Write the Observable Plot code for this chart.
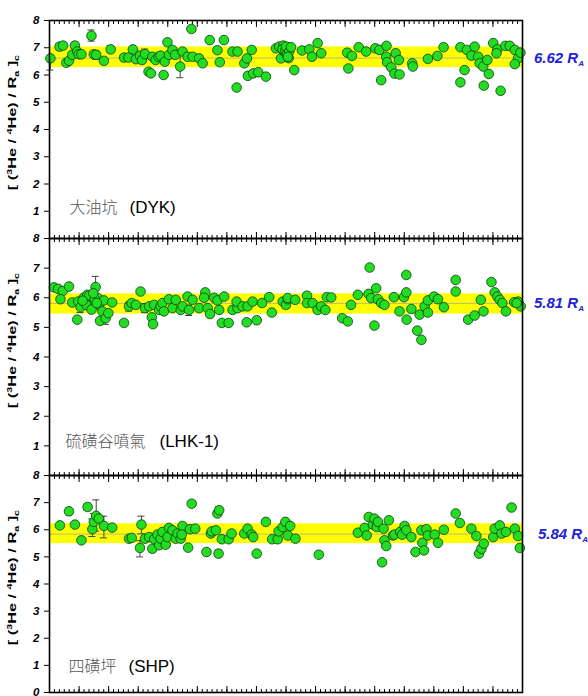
<!DOCTYPE html>
<html><head><meta charset="utf-8">
<script src="https://cdn.jsdelivr.net/npm/d3@7"></script>
<script src="https://cdn.jsdelivr.net/npm/@observablehq/plot@0.6"></script>
<style>
body{margin:0;background:#fff;}
#chart{position:relative;width:588px;height:696px;overflow:hidden;background:#fff;}
#chart svg{position:absolute;left:0;}
</style></head><body><div id="chart"></div>
<script>
// ---- data ----
const xDomain = [0, 16];
const yDomain = [0, 8];
const majorTicks = d3.range(0, 17);
const minorTicks = d3.range(0, 97).map(i => i / 6);
const yTicksUpper = [1, 2, 3, 4, 5, 6, 7, 8];
const yTicksLower = [0, 1, 2, 3, 4, 5, 6, 7, 8];

const panelNames = ["大油坑", "硫磺谷噴氣", "四磺坪"];
const panelCodes = ["(DYK)", "(LHK-1)", "(SHP)"];
const panelMeans = [6.62, 5.81, 5.84];
const panelBands = [[6.27, 7.03], [5.45, 6.13], [5.49, 6.22]];

const dykPoints = [[0.03,6.61],[0.34,7.04],[0.46,7.08],[0.57,6.45],[0.66,6.52],[0.77,6.74],[0.86,7.08],[0.94,6.86],[0.99,6.76],[1.08,6.76],[1.42,7.44],[1.50,6.76],[1.58,6.74],[1.84,6.52],[2.07,6.94],[2.52,6.64],[2.67,6.64],[2.82,6.94],[2.92,6.58],[3.06,6.71],[3.13,6.55],[3.23,6.77],[3.35,6.12],[3.43,6.06],[3.48,6.67],[3.59,6.55],[3.69,6.67],[3.76,6.71],[3.86,6.0],[3.90,6.49],[3.99,7.2],[4.04,6.74],[4.16,6.92],[4.25,6.74],[4.42,6.31],[4.50,6.86],[4.67,6.67],[4.80,7.69],[4.84,6.67],[5.06,6.61],[5.18,6.43],[5.42,7.28],[5.68,6.91],[5.76,6.47],[5.90,7.28],[6.19,6.86],[6.33,5.54],[6.36,6.86],[6.59,6.43],[6.68,6.61],[6.71,5.97],[6.84,6.92],[6.89,6.06],[7.06,6.10],[7.32,5.94],[7.66,6.98],[7.77,7.04],[7.83,6.61],[7.91,7.08],[7.94,6.86],[8.0,6.98],[8.06,6.71],[8.11,7.0],[7.88,6.95],[7.98,6.9],[8.03,6.78],[8.09,6.62],[8.0,7.04],[8.11,6.86],[8.17,7.02],[8.06,6.67],[8.28,6.18],[8.54,6.9],[8.79,6.94],[8.88,6.67],[9.07,7.17],[9.19,6.80],[10.07,6.82],[10.23,6.70],[10.11,6.24],[10.46,7.02],[10.71,6.86],[11.02,6.98],[11.16,6.92],[11.22,5.81],[11.40,7.07],[11.39,6.67],[11.42,6.47],[11.56,6.28],[11.71,6.80],[11.82,6.55],[11.67,6.05],[11.84,6.02],[12.27,6.43],[12.29,6.31],[12.80,6.59],[13.12,6.70],[13.33,7.02],[13.90,7.02],[14.04,6.18],[13.90,5.73],[14.12,6.92],[14.38,7.04],[14.27,6.71],[14.50,6.67],[14.55,6.43],[14.67,6.31],[14.81,6.55],[14.86,6.04],[14.69,5.61],[15.01,7.17],[15.15,6.94],[15.12,6.80],[15.26,5.42],[15.42,7.07],[15.57,7.07],[15.74,6.92],[15.85,6.61],[15.74,6.40],[15.93,6.82]];
const dykErrors = [[0.03,6.18,6.61],[0.34,6.92,7.16],[0.46,6.96,7.2],[0.86,6.96,7.2],[1.42,7.24,7.65],[1.58,6.58,6.9],[2.07,6.82,7.08],[3.23,6.6,6.95],[4.42,5.9,6.72],[2.52,6.52,6.72],[8.06,6.55,6.85],[4.25,6.6,6.88]];

const lhkPoints = [[0.15,6.35],[0.29,6.3],[0.45,6.23],[0.66,6.38],[0.37,5.95],[0.77,5.84],[0.94,5.26],[0.97,5.87],[1.05,5.68],[1.16,6.0],[1.22,5.82],[1.28,6.1],[1.33,5.93],[1.39,5.71],[1.45,6.04],[1.50,5.87],[1.56,6.36],[1.62,6.0],[1.67,5.76],[1.71,5.22],[1.79,5.54],[1.84,5.91],[1.90,5.31],[1.99,5.48],[2.12,5.84],[1.25,5.75],[1.35,6.08],[1.42,5.6],[1.53,5.95],[1.6,5.82],[1.12,5.9],[1.48,6.15],[2.52,5.15],[2.69,5.71],[2.78,5.82],[2.92,5.76],[3.08,6.21],[3.23,5.65],[3.37,5.71],[3.46,5.34],[3.50,5.11],[3.54,5.76],[3.71,5.59],[3.76,5.71],[3.82,5.82],[3.87,5.54],[4.04,5.95],[4.16,5.65],[4.27,5.93],[4.44,5.59],[4.50,5.71],[4.67,6.04],[4.72,5.59],[4.84,5.93],[5.06,5.65],[5.27,6.18],[5.23,6.0],[5.35,5.65],[5.43,5.45],[5.57,6.0],[5.68,5.91],[5.74,5.59],[5.91,6.04],[5.83,5.15],[6.06,5.15],[6.19,5.59],[6.36,5.65],[6.33,5.87],[6.53,5.71],[6.70,5.71],[6.67,5.17],[6.87,5.87],[7.01,5.24],[7.19,5.82],[7.43,6.02],[7.52,5.5],[7.89,5.87],[8.0,5.76],[8.06,5.95],[8.06,5.99],[8.31,5.93],[8.71,6.07],[8.71,5.82],[8.90,5.82],[9.07,5.59],[9.19,5.71],[9.33,5.59],[9.38,6.02],[9.53,6.01],[9.90,5.31],[10.09,5.2],[10.20,5.76],[10.43,6.1],[10.83,7.02],[10.79,6.13],[10.88,5.99],[11.05,6.32],[11.11,5.95],[11.22,5.82],[11.33,5.76],[10.99,5.06],[11.65,6.02],[11.84,5.54],[11.99,6.02],[12.07,6.18],[12.07,6.77],[12.08,5.26],[12.24,5.62],[12.44,4.89],[12.58,4.58],[12.52,5.43],[12.69,5.71],[12.80,5.5],[12.80,5.91],[13.01,6.04],[13.14,5.95],[13.34,5.68],[13.74,6.6],[13.74,6.21],[14.16,5.26],[14.38,5.4],[14.59,5.93],[14.68,5.54],[14.95,6.53],[15.06,6.18],[15.15,6.04],[15.23,5.93],[15.32,5.82],[15.44,5.54],[15.72,5.85],[15.85,5.87],[15.94,5.71],[15.80,5.82]];
const lhkErrors = [[1.56,6.0,6.72],[1.33,5.7,6.15],[1.90,5.1,5.5],[2.69,5.55,5.85],[4.72,5.4,5.75],[8.0,5.65,5.95],[9.53,5.9,6.12],[1.05,5.5,5.85],[3.23,5.5,5.8]];

const shpPoints = [[0.35,6.16],[0.66,6.68],[0.86,6.19],[1.08,5.61],[1.29,6.84],[1.45,6.02],[1.50,6.29],[1.58,6.51],[1.67,6.41],[1.84,6.14],[2.12,6.08],[2.69,5.67],[2.78,5.7],[3.11,6.19],[3.06,5.33],[3.23,5.67],[3.37,5.73],[3.48,5.3],[3.54,5.65],[3.65,5.82],[3.71,5.43],[3.76,5.67],[3.82,5.92],[3.93,5.45],[3.99,5.73],[4.04,6.07],[4.16,5.98],[4.27,5.67],[4.33,5.86],[4.44,5.67],[4.50,6.14],[4.47,5.82],[4.69,5.34],[4.75,6.02],[4.81,6.96],[4.93,6.04],[5.31,5.18],[5.46,5.86],[5.49,5.94],[5.63,5.98],[5.68,6.6],[5.74,6.72],[5.72,5.12],[5.83,5.65],[6.06,5.65],[6.16,5.86],[6.59,5.86],[6.70,6.04],[6.84,5.82],[6.89,5.73],[7.01,5.12],[7.32,6.29],[7.53,5.65],[7.72,5.65],[7.75,5.94],[7.89,6.1],[7.98,6.29],[8.06,5.79],[8.14,6.14],[8.32,5.67],[9.11,5.08],[10.43,5.89],[10.66,6.07],[10.73,5.79],[10.80,6.47],[10.94,6.19],[10.99,6.41],[11.07,6.1],[11.11,6.29],[11.25,4.8],[11.30,6.04],[11.33,5.61],[11.39,5.4],[11.48,6.35],[11.62,5.79],[11.67,5.82],[11.86,5.92],[11.93,5.82],[12.01,6.14],[12.07,5.98],[12.24,5.73],[12.38,5.18],[12.58,5.98],[12.61,5.52],[12.67,5.24],[12.75,6.02],[12.80,5.79],[13.03,5.82],[13.14,5.52],[13.34,6.0],[13.74,6.6],[13.88,6.25],[14.27,6.04],[14.44,5.77],[14.53,5.12],[14.61,5.3],[14.69,5.49],[15.01,5.73],[15.06,6.04],[15.23,6.16],[15.29,5.86],[15.44,5.92],[15.63,6.82],[15.74,6.04],[15.85,5.77],[15.91,5.33]];
const shpErrors = [[1.45,5.75,6.4],[1.50,5.95,6.6],[1.58,5.95,7.1],[1.84,5.7,6.5],[3.11,5.85,6.5],[3.06,5.0,5.6],[5.72,5.0,5.25],[5.74,6.6,6.85],[0.66,6.55,6.8],[1.29,6.72,6.95]];

const pointSets = [dykPoints, lhkPoints, shpPoints];
const errorSets = [dykErrors, lhkErrors, shpErrors];

// ---- layout ----
const W = 588, ML = 49, MR = 66;
const layouts = [
  {top: 0,   height: 250, mt: 20, mb: 12, yTicks: yTicksUpper, labelDx: 20, labelDy: -31, meanDx: 12},
  {top: 226, height: 261, mt: 12, mb: 12, yTicks: yTicksUpper, labelDx: 16, labelDy: -34, meanDx: 12},
  {top: 463, height: 233, mt: 12, mb: 4,  yTicks: yTicksLower, labelDx: 19, labelDy: -26, meanDx: 16}
];
const sans = "'Liberation Sans', Arial, Helvetica, sans-serif";
const chart = document.getElementById("chart");

function richText(sel, parts, smallSize, supOff, subOff) {
  let off = 0;
  parts.forEach(([s, kind]) => {
    const target = kind === "sup" ? supOff : kind === "sub" ? subOff : 0;
    const t = sel.append("tspan").attr("dy", target - off).text(s);
    if (kind) t.attr("font-size", smallSize);
    off = target;
  });
}

layouts.forEach((L, i) => {
  const frameTop = L.mt;
  const plot = Plot.plot({
    width: W, height: L.height,
    marginLeft: ML, marginRight: MR, marginTop: L.mt, marginBottom: L.mb,
    style: {background: "transparent", overflow: "visible", fontFamily: sans, fontSize: "11px", color: "black"},
    x: {domain: xDomain},
    y: {domain: yDomain},
    marks: [
      Plot.rect([panelBands[i]], {x1: xDomain[0], x2: xDomain[1], y1: d => d[0], y2: d => d[1], fill: "#ffff00"}),
      Plot.ruleY([panelMeans[i]], {stroke: "#b4b08c", strokeWidth: 0.9}),
      Plot.ruleX(errorSets[i], {x: d => d[0], y1: d => d[1], y2: d => d[2], stroke: "#444", strokeWidth: 1}),
      Plot.ruleY(errorSets[i], {y: d => d[1], x1: d => d[0] - 0.12, x2: d => d[0] + 0.12, stroke: "#444", strokeWidth: 1}),
      Plot.ruleY(errorSets[i], {y: d => d[2], x1: d => d[0] - 0.12, x2: d => d[0] + 0.12, stroke: "#444", strokeWidth: 1}),
      Plot.dot(pointSets[i], {x: d => d[0], y: d => d[1], r: 4.8, fill: "#22dd22", stroke: "#0b3d0b", strokeWidth: 0.8}),
      Plot.axisX({anchor: "top", ticks: majorTicks, tickSize: -6, tickFormat: () => "", label: null}),
      Plot.axisX({anchor: "top", ticks: minorTicks, tickSize: -3, tickFormat: () => "", label: null}),
      Plot.axisX({anchor: "bottom", ticks: majorTicks, tickSize: -6, tickFormat: () => "", label: null}),
      Plot.axisX({anchor: "bottom", ticks: minorTicks, tickSize: -3, tickFormat: () => "", label: null}),
      Plot.axisY({anchor: "left", ticks: L.yTicks, tickSize: 5, tickPadding: 5, tickFormat: d3.format("d"), label: null,
        fontSize: 11.5, fontStyle: "italic", fontWeight: "bold", fontFamily: sans}),
      Plot.text([panelNames[i]], {frameAnchor: "bottom-left", dx: L.labelDx, dy: L.labelDy, textAnchor: "start", lineAnchor: "middle",
        fontFamily: "'Noto Sans CJK TC', 'Noto Sans CJK SC', sans-serif", fontSize: 16, fontWeight: 300, fontStyle: "normal", fill: "#555"}),
      Plot.text([panelCodes[i]], {frameAnchor: "bottom-left", dx: L.labelDx + panelNames[i].length * 17 + 9, dy: L.labelDy, textAnchor: "start", lineAnchor: "middle",
        fontFamily: sans, fontSize: 17, fontWeight: "normal", fontStyle: "normal", fill: "black"}),
      Plot.frame({stroke: "black", strokeWidth: 1.6})
    ]
  });
  plot.style.top = L.top + "px";
  chart.appendChild(plot);
  const svg = d3.select(plot);
  const yS = plot.scale("y");

  // make sure y tick labels are bold italic
  svg.selectAll("g[aria-label='y-axis tick label'] text")
    .style("font-style", "italic").style("font-weight", "bold");

  // y-axis title (stretched along its length like the reference)
  const t = svg.append("text")
    .attr("transform", `translate(16,${frameTop + 35}) rotate(-90) scale(1.42,1)`)
    .attr("text-anchor", "end")
    .attr("fill", "black")
    .style("font-family", sans).style("font-size", "11.5px").style("font-weight", "bold").style("font-style", "normal");
  richText(t, [["[ (", null], ["3", "sup"], ["He / ", null], ["4", "sup"], ["He) / R", null], ["a", "sub"], [" ]", null], ["c", "sub"]], "7.5px", -4.5, 3);

  // mean label
  const m = svg.append("text")
    .attr("x", W - MR + L.meanDx)
    .attr("y", yS.apply(panelMeans[i]) + 5)
    .attr("text-anchor", "start")
    .attr("fill", "#2222d6")
    .style("font-family", sans).style("font-size", "15px").style("font-weight", "bold").style("font-style", "italic");
  richText(m, [[panelMeans[i].toFixed(2) + " R", null], ["A", "sub"]], "8px", -5, 3.5);
});
</script>
</body></html>
